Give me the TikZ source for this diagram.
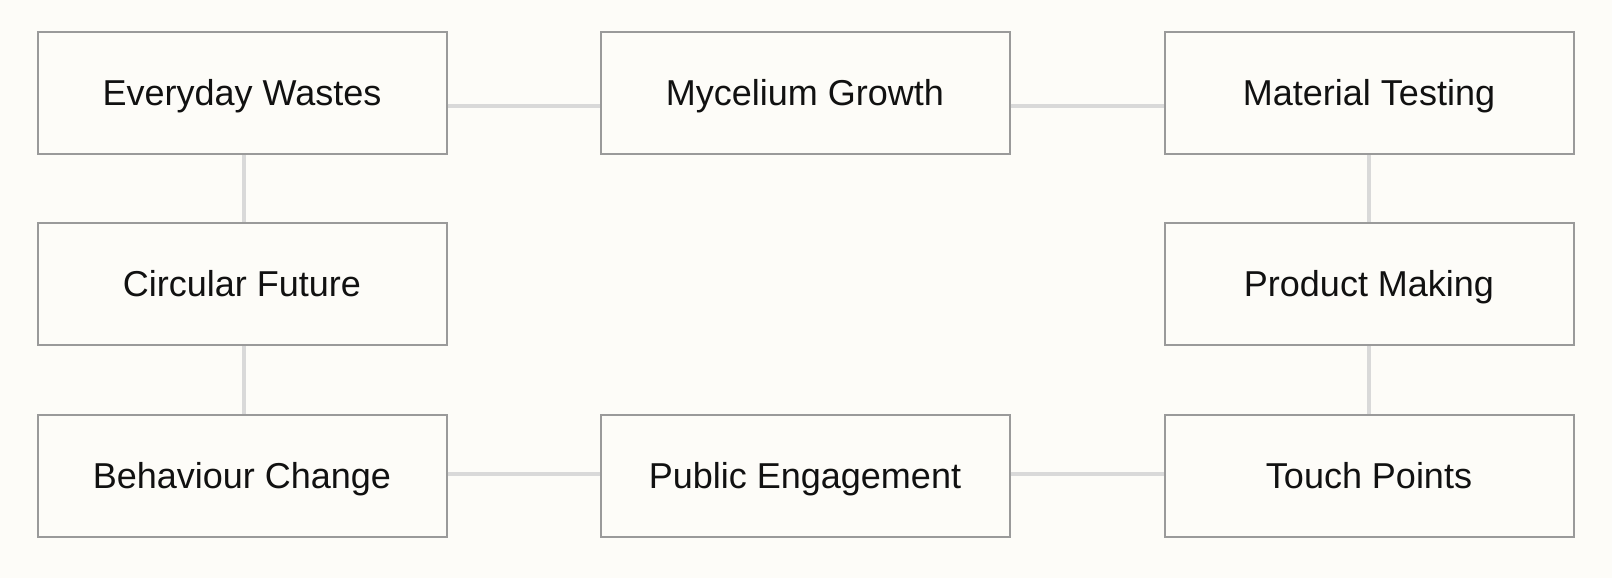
\documentclass[tikz,border=0pt]{standalone}
\usepackage{fontspec}
\setmainfont{Liberation Sans}
\usepackage{tikz}
\usepackage{xcolor}
\definecolor{paper}{HTML}{FDFCF8}
\definecolor{frame}{HTML}{9A9A9A}
\definecolor{link}{HTML}{D9D9D9}
\definecolor{ink}{HTML}{111111}

\begin{document}
\begin{tikzpicture}[x=1pt, y=-1pt,
   stage/.style={draw=frame, line width=2pt, fill=paper, text=ink,
      minimum width=409pt, minimum height=122pt, inner sep=0pt,
      text height=27pt, text depth=3pt, font=\fontsize{36}{40}\selectfont},
   joint/.style={draw=link, line width=4pt}]
   % canvas
   \coordinate (BL) at (0, 578);
   \coordinate (TR) at (1612, 0);
   \path[fill=paper] (BL) rectangle (TR);
   \useasboundingbox (BL) rectangle (TR);

   % boxes
   \node[stage] (EW) at (242, 93) {Everyday Wastes};
   \node[stage] (MG) at (805, 93) {Mycelium Growth};
   \node[stage] (MT) at (1369, 93) {Material Testing};
   \node[stage] (CF) at (242, 284) {Circular Future};
   \node[stage] (PM) at (1369, 284) {Product Making};
   \node[stage] (BC) at (242, 476) {Behaviour Change};
   \node[stage] (PE) at (805, 476) {Public Engagement};
   \node[stage] (TP) at (1369, 476) {Touch Points};

   % links
   \draw[joint] ([yshift=-13pt]EW.east) -- ([yshift=-13pt]MG.west);
   \draw[joint] ([yshift=-13pt]MG.east) -- ([yshift=-13pt]MT.west);
   \draw[joint] ([xshift=2pt]EW.south) -- ([xshift=2pt]CF.north);
   \draw[joint] ([xshift=2pt]CF.south) -- ([xshift=2pt]BC.north);
   \draw[joint] (MT.south) -- (PM.north);
   \draw[joint] (PM.south) -- (TP.north);
   \draw[joint] ([yshift=2pt]BC.east) -- ([yshift=2pt]PE.west);
   \draw[joint] ([yshift=2pt]PE.east) -- ([yshift=2pt]TP.west);
\end{tikzpicture}
\end{document}
